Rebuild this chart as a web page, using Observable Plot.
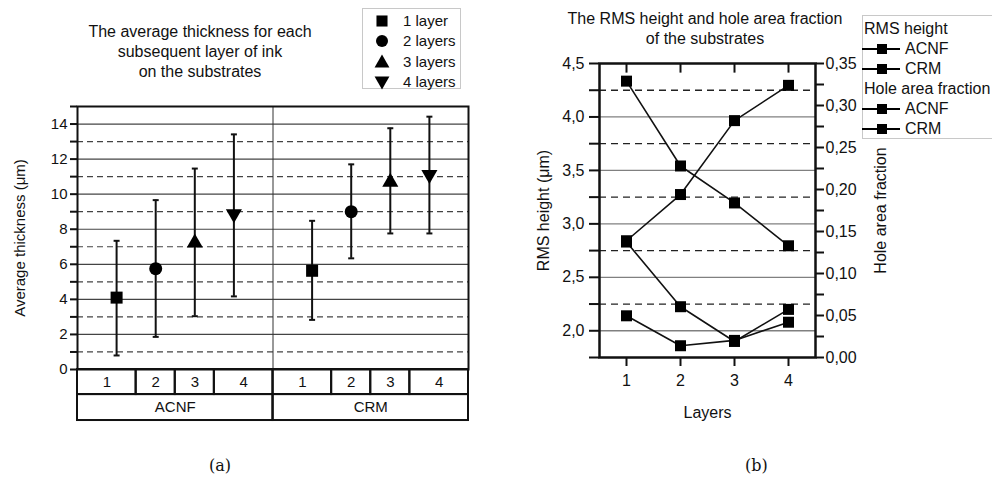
<!DOCTYPE html>
<html><head><meta charset="utf-8">
<script src="https://cdn.jsdelivr.net/npm/d3@7"></script>
<script src="https://cdn.jsdelivr.net/npm/@observablehq/plot@0.6"></script>
<style>
body{margin:0;background:#fff;font-family:"Liberation Sans",Arial,sans-serif;color:#111;}
#wrap{position:relative;width:992px;height:485px;overflow:hidden;background:#fff;}
.title{text-align:center;line-height:20px;white-space:nowrap;}
.legend{border:1px solid #c8c8c8;background:#fff;box-sizing:border-box;}
.row{position:absolute;height:20px;line-height:20px;white-space:nowrap;}
.cap{font-family:"DejaVu Serif","Liberation Serif",serif;font-size:16px;}
svg{overflow:visible;}
</style></head><body><div id="wrap"></div>
<script>
// ---------- data ----------
const substrates = ["ACNF", "CRM"];
const layers = [1, 2, 3, 4];
const layerNames = ["1 layer", "2 layers", "3 layers", "4 layers"];
const thicknessACNF = [4.1, 5.75, 7.3, 8.8];
const lowACNF = [0.8, 1.86, 3.04, 4.17];
const highACNF = [7.34, 9.66, 11.46, 13.41];
const thicknessCRM = [5.63, 9.0, 10.76, 11.04];
const lowCRM = [2.83, 6.34, 7.76, 7.76];
const highCRM = [8.48, 11.7, 13.76, 14.42];
const rmsACNF = [2.83, 2.225, 1.9, 2.2];
const rmsCRM = [2.14, 1.86, 1.91, 2.08];
const holeACNF = [0.329, 0.228, 0.184, 0.133];
const holeCRM = [0.139, 0.194, 0.282, 0.324];
const thickTicks = d3.range(0, 16);
const rmsTicks = d3.range(1.75, 4.51, 0.25);
const holeTicks = d3.range(0, 0.351, 0.025);

// ---------- symbols ----------
const R = s => Math.sqrt(s / Math.PI);
const symSquare = {draw(c, s){const r = R(s); c.rect(-r, -r, 2*r, 2*r);}};
const symCircle = {draw(c, s){const r = R(s); c.moveTo(r, 0); c.arc(0, 0, r, 0, 2*Math.PI);}};
const symUp = {draw(c, s){const r = R(s); c.moveTo(0, -r*1.15); c.lineTo(r*1.15, r*0.85); c.lineTo(-r*1.15, r*0.85); c.closePath();}};
const symDown = {draw(c, s){const r = R(s); c.moveTo(0, r*1.15); c.lineTo(r*1.15, -r*0.85); c.lineTo(-r*1.15, -r*0.85); c.closePath();}};
const symCap = {draw(c, s){const r = R(s); c.moveTo(-r, 0); c.lineTo(r, 0);}};
const layerSymbols = [symSquare, symCircle, symUp, symDown];
const layerR = [6, 6.5, 7, 7];

const wrap = document.getElementById("wrap");
function place(node, left, top){node.style.position = "absolute"; node.style.left = left + "px"; node.style.top = top + "px"; wrap.appendChild(node); return node;}
function div(cls, html, left, top, extra){const d = document.createElement("div"); d.className = cls; d.innerHTML = html; if (extra) Object.assign(d.style, extra); return place(d, left, top);}

// ---------- left chart ----------
const groupWidth = 5;
const thick = [];
substrates.forEach((s, gi) => layers.forEach((l, li) => {
  const m = gi === 0 ? thicknessACNF : thicknessCRM;
  const lo = gi === 0 ? lowACNF : lowCRM;
  const hi = gi === 0 ? highACNF : highCRM;
  thick.push({sub: s, layer: l, li, pos: gi*groupWidth + l, mean: m[li], low: lo[li], high: hi[li]});
}));
const layerCells = thick.map(d => ({
  text: String(d.layer),
  x1: d.layer === 1 ? d.pos - 1 : d.pos - 0.5,
  x2: d.layer === layers.length ? d.pos + 1 : d.pos + 0.5
}));
const groupCells = substrates.map((s, gi) => ({text: s, x1: gi*groupWidth, x2: (gi+1)*groupWidth}));
const row1 = [0, -1.43], row2 = [-1.43, -2.91];

const leftPlot = Plot.plot({
  width: 480, height: 430,
  marginLeft: 77, marginRight: 12, marginTop: 106, marginBottom: 61,
  x: {domain: [0, 2*groupWidth]},
  y: {domain: [0, 15]},
  style: {fontFamily: "Liberation Sans, Arial, sans-serif", fontSize: "15px", color: "#111", background: "transparent"},
  marks: [
    Plot.ruleY(d3.range(2, 15, 2), {stroke: "#444", strokeWidth: 1.2}),
    Plot.ruleY(d3.range(1, 15, 2), {stroke: "#444", strokeWidth: 1.2, strokeDasharray: "6,4"}),
    Plot.ruleX([groupWidth], {stroke: "#333", strokeWidth: 1, y1: row2[1], y2: 15}),
    Plot.rect(layerCells, {x1: "x1", x2: "x2", y1: row1[0], y2: row1[1], fill: "none", stroke: "#111", strokeWidth: 2}),
    Plot.rect(groupCells, {x1: "x1", x2: "x2", y1: row2[0], y2: row2[1], fill: "none", stroke: "#111", strokeWidth: 2}),
    Plot.text(layerCells, {x: d => (d.x1 + d.x2)/2, y: (row1[0] + row1[1])/2, text: "text", fontSize: 15}),
    Plot.text(groupCells, {x: d => (d.x1 + d.x2)/2, y: (row2[0] + row2[1])/2, text: "text", fontSize: 15}),
    Plot.axisX({ticks: [], label: null}),
    Plot.axisY({ticks: thickTicks, tickFormat: d => (d % 2 === 0 ? String(d) : ""), tickSize: 7, tickPadding: 3, strokeWidth: 2,
      label: "Average thickness (μm)", labelAnchor: "center", labelArrow: "none", labelOffset: 63}),
    Plot.frame({stroke: "#111", strokeWidth: 2}),
    Plot.ruleX(thick, {x: "pos", y1: "low", y2: "high", stroke: "#111", strokeWidth: 2}),
    Plot.dot(thick, {x: "pos", y: "low", symbol: symCap, r: 3, stroke: "#111", strokeWidth: 2}),
    Plot.dot(thick, {x: "pos", y: "high", symbol: symCap, r: 3, stroke: "#111", strokeWidth: 2}),
    ...layers.map((l, li) => Plot.dot(thick.filter(d => d.layer === l), {x: "pos", y: "mean", symbol: layerSymbols[li], r: layerR[li], fill: "#000", stroke: "none"}))
  ]
});
place(leftPlot, 0, 0);

div("title", "The average thickness for each<br>subsequent layer of ink<br>on the substrates", 80, 22, {width: "240px", fontSize: "16px"});

// left legend
const lg = div("legend", "", 362, 8, {width: "99px", height: "81px", fontSize: "15px"});
layerNames.forEach((name, i) => {
  const y = 2 + i*20.3;
  const s = document.createElementNS("http://www.w3.org/2000/svg", "svg");
  s.setAttribute("width", 20); s.setAttribute("height", 20);
  s.style.position = "absolute"; s.style.left = "9px"; s.style.top = y + "px";
  const p = document.createElementNS("http://www.w3.org/2000/svg", "path");
  const path = d3.path(); layerSymbols[i].draw(path, Math.PI*layerR[i]*layerR[i]*0.85);
  p.setAttribute("d", path.toString()); p.setAttribute("transform", "translate(10,10)"); p.setAttribute("fill", "#000");
  s.appendChild(p); lg.appendChild(s);
  const t = document.createElement("div"); t.className = "row"; t.textContent = name;
  t.style.left = "40px"; t.style.top = y + "px"; lg.appendChild(t);
});

// ---------- right chart ----------
const yMin = 1.75, yMax = 4.5, hMax = 0.35;
const toY = v => yMin + v*(yMax - yMin)/hMax;
const series = [
  {name: "RMS ACNF", values: rmsACNF, conv: v => v},
  {name: "RMS CRM", values: rmsCRM, conv: v => v},
  {name: "Hole ACNF", values: holeACNF, conv: toY},
  {name: "Hole CRM", values: holeCRM, conv: toY}
];
const pts = series.flatMap(s => s.values.map((v, i) => ({series: s.name, layer: layers[i], y: s.conv(v)})));
const fmt = (d, n) => d.toFixed(n).replace(".", ",");
const topTickLen = 0.09;

const rightPlot = Plot.plot({
  width: 492, height: 430,
  marginLeft: 99, marginRight: 177, marginTop: 63, marginBottom: 73,
  x: {domain: [0.5, 4.5]},
  y: {domain: [yMin, yMax]},
  style: {fontFamily: "Liberation Sans, Arial, sans-serif", fontSize: "16px", color: "#111", background: "transparent"},
  marks: [
    Plot.ruleY(d3.range(2, 4.01, 0.5), {stroke: "#808080", strokeWidth: 1.3}),
    Plot.ruleY(d3.range(2.25, 4.3, 0.5), {stroke: "#222", strokeWidth: 1.3, strokeDasharray: "7,5"}),
    Plot.axisY({ticks: rmsTicks, tickFormat: d => (Math.abs(d*2 - Math.round(d*2)) < 1e-6 ? fmt(d, 1) : ""), tickSize: 10, tickPadding: 5, strokeWidth: 2,
      label: "RMS height (μm)", labelAnchor: "center", labelArrow: "none", labelOffset: 62}),
    Plot.axisY({anchor: "right", ticks: holeTicks.map(toY), tickFormat: (d, i) => (i % 2 === 0 ? fmt(holeTicks[i], 2) : ""), tickSize: 8, tickPadding: 2, strokeWidth: 2,
      label: "Hole area fraction", labelAnchor: "center", labelArrow: "none", labelOffset: 70}),
    Plot.axisX({ticks: layers, tickFormat: d => String(d), tickSize: 9, tickPadding: 8, strokeWidth: 2,
      label: "Layers", labelAnchor: "center", labelArrow: "none", labelOffset: 60}),
    Plot.ruleX(layers, {y1: yMax, y2: yMax - topTickLen, stroke: "#111", strokeWidth: 2}),
    Plot.frame({stroke: "#111", strokeWidth: 2.5}),
    Plot.line(pts, {x: "layer", y: "y", z: "series", stroke: "#111", strokeWidth: 1.6}),
    Plot.dot(pts, {x: "layer", y: "y", symbol: symSquare, r: 5.5, fill: "#000"})
  ]
});
place(rightPlot, 500, 0);

div("title", "The RMS height and hole area fraction<br>of the substrates", 545, 9, {width: "320px", fontSize: "16px"});

// right legend
const rg = div("legend", "", 862, 15, {width: "140px", height: "124px", fontSize: "16px"});
const rows = [["RMS height", false], ["ACNF", true], ["CRM", true], ["Hole area fraction", false], ["ACNF", true], ["CRM", true]];
rows.forEach(([txt, sym], i) => {
  const y = 3 + i*20;
  if (sym) {
    const s = document.createElementNS("http://www.w3.org/2000/svg", "svg");
    s.setAttribute("width", 40); s.setAttribute("height", 20);
    s.style.position = "absolute"; s.style.left = "-1px"; s.style.top = y + "px";
    s.innerHTML = '<line x1="0" x2="38" y1="10" y2="10" stroke="#000" stroke-width="2"/><rect x="15" y="5" width="10" height="10" fill="#000"/>';
    rg.appendChild(s);
  }
  const t = document.createElement("div"); t.className = "row"; t.textContent = txt;
  t.style.left = (sym ? 42 : 1) + "px"; t.style.top = y + "px"; rg.appendChild(t);
});

div("cap", "(a)", 209, 456);
div("cap", "(b)", 745, 456);
</script></body></html>
